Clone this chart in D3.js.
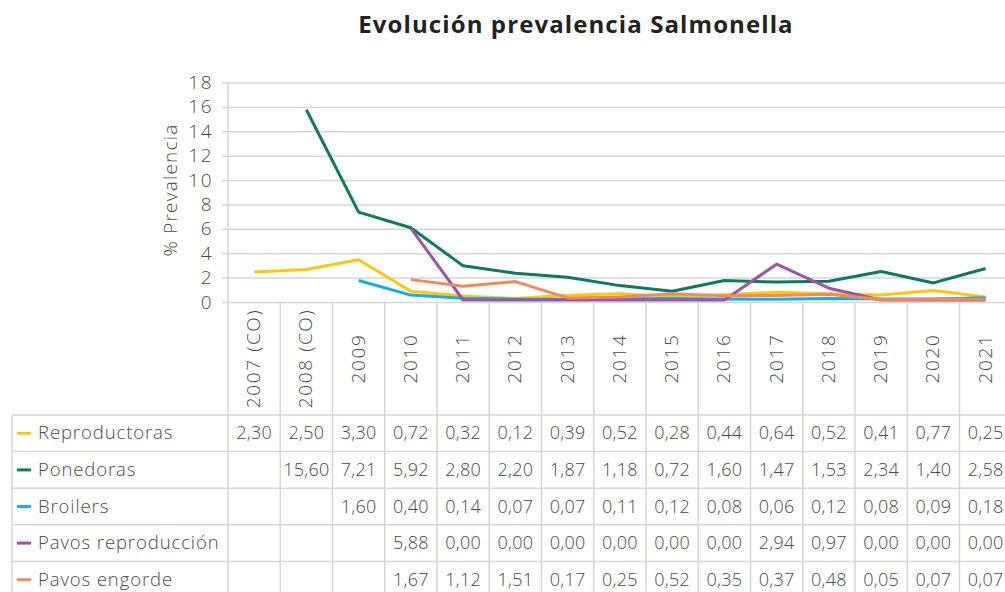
<!DOCTYPE html>
<html><head><meta charset="utf-8">
<script src="https://cdn.jsdelivr.net/npm/d3@7"></script>
<style>
html,body{margin:0;padding:0;background:#fff;}
svg{display:block;font-family:"Open Sans",sans-serif;}
</style></head>
<body>
<svg id="c" width="1005" height="592"></svg>
<script>
const years = ["2007 (CO)","2008 (CO)","2009","2010","2011","2012","2013","2014","2015","2016","2017","2018","2019","2020","2021"];
const seriesNames = ["Reproductoras","Ponedoras","Broilers","Pavos reproducción","Pavos engorde"];
const seriesColors = ["#FFC712","#0B7A5E","#13AEE6","#9A55A3","#F08A5B"];
const reproductoras = [2.30,2.50,3.30,0.72,0.32,0.12,0.39,0.52,0.28,0.44,0.64,0.52,0.41,0.77,0.25];
const ponedoras = [null,15.60,7.21,5.92,2.80,2.20,1.87,1.18,0.72,1.60,1.47,1.53,2.34,1.40,2.58];
const broilers = [null,null,1.60,0.40,0.14,0.07,0.07,0.11,0.12,0.08,0.06,0.12,0.08,0.09,0.18];
const pavosReproduccion = [null,null,null,5.88,0.00,0.00,0.00,0.00,0.00,0.00,2.94,0.97,0.00,0.00,0.00];
const pavosEngorde = [null,null,null,1.67,1.12,1.51,0.17,0.25,0.52,0.35,0.37,0.48,0.05,0.07,0.07];
const yTicks = [0,2,4,6,8,10,12,14,16,18];

const seriesValues = [reproductoras, ponedoras, broilers, pavosReproduccion, pavosEngorde];
const svg = d3.select("#c");
const gridColor = "#d6d6d6";
const textColor = "#4a4a4a";

const x0 = 228, colW = 52.25;
const x = d3.scaleBand().domain(years).range([x0, x0 + colW*years.length]).padding(0);
const y = d3.scaleLinear().domain([0,18]).range([302, 82.5]);

// title
svg.append("text").attr("x", 576).attr("y", 33).attr("text-anchor","middle")
  .attr("font-size", 24).attr("font-weight", 700).attr("fill", "#222").attr("letter-spacing", 1.1)
  .text("Evolución prevalencia Salmonella");

// y grid + ticks
const yAxis = d3.axisLeft(y).tickValues(yTicks).tickSize(-(1005 - x0)).tickPadding(10).tickFormat(d3.format("d"));
const ga = svg.append("g").attr("transform", `translate(${x0},0)`).call(yAxis);
ga.select(".domain").remove();
ga.selectAll(".tick line").attr("stroke", gridColor).attr("stroke-width", 1.5).attr("x1", -6);
ga.selectAll(".tick text").attr("font-size", 19).attr("fill", textColor).attr("font-family","Open Sans")
  .attr("x", -15).attr("font-weight", 300).attr("letter-spacing", 1.5);

// y title
svg.append("text").attr("transform", "translate(177,190) rotate(-90)").attr("text-anchor","middle")
  .attr("font-size", 19).attr("fill", textColor).attr("font-weight", 300).attr("letter-spacing", 1.2).text("% Prevalencia");

// table geometry
const headerTop = 302, headerBottom = 415, rowH = 36.6;
const rowsBottom = headerBottom + rowH*seriesNames.length;
const tbl = svg.append("g");
years.forEach((yr,i) => {
  tbl.append("line").attr("x1", x(yr)).attr("x2", x(yr)).attr("y1", i===0 ? 82.5 : headerTop).attr("y2", rowsBottom)
    .attr("stroke", gridColor).attr("stroke-width", 1.5);
});
tbl.append("line").attr("x1", x0 + colW*years.length).attr("x2", x0 + colW*years.length).attr("y1", headerTop).attr("y2", rowsBottom).attr("stroke", gridColor).attr("stroke-width",1.5);
tbl.append("line").attr("x1", 12).attr("x2", 12).attr("y1", headerBottom).attr("y2", rowsBottom).attr("stroke", gridColor).attr("stroke-width",1.5);
for (let r = 0; r <= seriesNames.length; r++) {
  const yy = headerBottom + r*rowH;
  tbl.append("line").attr("x1", 12).attr("x2", 1005).attr("y1", yy).attr("y2", yy).attr("stroke", gridColor).attr("stroke-width",1.5);
}
// year labels
years.forEach(yr => {
  const cx = x(yr) + x.bandwidth()/2 + 6, cy = (headerTop + headerBottom)/2;
  tbl.append("text").attr("transform", `translate(${cx},${cy}) rotate(-90)`).attr("text-anchor","middle")
    .attr("font-size", 19).attr("fill", textColor).attr("font-weight", 300).attr("letter-spacing", 1.6).text(yr);
});
// rows
const fmt = v => v.toFixed(2).replace(".", ",");
seriesNames.forEach((name, si) => {
  const cy = headerBottom + si*rowH + rowH/2;
  tbl.append("line").attr("x1", 17).attr("x2", 31).attr("y1", cy).attr("y2", cy).attr("stroke", seriesColors[si]).attr("stroke-width", 3);
  tbl.append("text").attr("x", 38).attr("y", cy + 6).attr("font-size", 18.5).attr("fill", textColor)
    .attr("font-weight", 300).attr("letter-spacing", 0.9).text(name);
  seriesValues[si].forEach((v, i) => {
    if (v === null) return;
    tbl.append("text").attr("x", x(years[i]) + x.bandwidth()/2).attr("y", cy + 6).attr("text-anchor","middle")
      .attr("font-size", 18).attr("fill", textColor).attr("font-weight", 300).attr("letter-spacing", 0.3).text(fmt(v));
  });
});

// lines
const line = d3.line().defined(d => d.v !== null).x(d => x(d.k) + x.bandwidth()/2).y(d => y(d.v));
const lg = svg.append("g").attr("transform", "translate(0,-2)");
seriesValues.forEach((vals, si) => {
  lg.append("path").datum(vals.map((v,i) => ({k: years[i], v})))
    .attr("d", line).attr("fill","none").attr("stroke", seriesColors[si]).attr("stroke-width", 3).attr("stroke-linejoin","round");
});
</script>
</body></html>
